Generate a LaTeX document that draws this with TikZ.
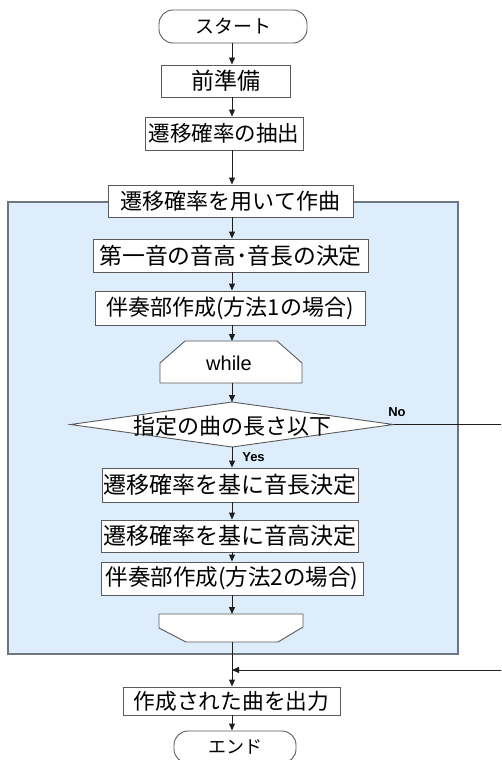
\documentclass[tikz,border=0pt]{standalone}
\usepackage{fontspec}
\newfontfamily\jp{Noto Sans CJK JP}
\newfontfamily\lat{Liberation Sans}
\usetikzlibrary{arrows.meta,calc}
\definecolor{boxline}{HTML}{5A5A5A}
\definecolor{lineblk}{HTML}{1E1E1E}
\definecolor{bluefill}{HTML}{DEEDFB}
\definecolor{blueline}{HTML}{6B7680}
\tikzset{
  box/.style={draw=boxline, line width=0.9pt, fill=white, inner sep=0pt, text=black},
  term/.style={box, rounded corners=14pt},
  fs/.style={font={\jp\fontsize{#1}{#1}\selectfont}},
  arr/.style={draw=lineblk, line width=0.9pt, -{Triangle[length=7pt,width=6pt]}},
  plainline/.style={draw=lineblk, line width=0.9pt},
  shp/.style={draw=boxline, line width=0.9pt, fill=white},
  ghost/.style={inner sep=0pt, outer sep=0pt},
  lbl/.style={font={\lat\bfseries\fontsize{13}{13}\selectfont}, inner sep=0pt}
}
\begin{document}
\begin{tikzpicture}[x=1pt,y=-1pt]
\useasboundingbox (0,0) rectangle (501,760);
\clip (0,0) rectangle (501,760);

% loop container
\node[draw=blueline, line width=1.2pt, fill=bluefill, minimum width=450pt, minimum height=452pt, inner sep=0pt] (loop) at (233,428) {};

\coordinate (colx) at (232,0);

\node[term, fs=19, minimum width=148pt, minimum height=33pt] (start) at (233,26.5) {スタート};
\node[box, fs=23, minimum width=129pt, minimum height=32pt] (pre) at (225.5,81) {前準備};
\node[box, fs=21.5, minimum width=158pt, minimum height=33pt] (ext) at (224,133.5) {遷移確率の抽出};
\node[box, fs=22, minimum width=245pt, minimum height=32pt] (comp) at (230.5,201) {遷移確率を用いて作曲};
\node[box, fs=22.8, minimum width=275pt, minimum height=33pt] (first) at (230.5,255.5) {第一音の音高･音長の決定};
\node[box, fs=22, minimum width=270pt, minimum height=34pt] (acc1) at (230,308) {伴奏部作成(方法1の場合)};

% while (loop start)
\node[ghost, minimum width=142pt, minimum height=42pt] (wh) at (231,362) {};
\draw[shp] (wh.south west) -- ($(wh.north west)+(0,22)$) -- ($(wh.north west)+(25,0)$) -- ($(wh.north east)+(-25,0)$) -- ($(wh.north east)+(0,22)$) -- (wh.south east) -- cycle;
\node[font={\lat\fontsize{20}{20}\selectfont}, inner sep=0pt] (whtxt) at (229,363) {while};

% condition
\node[ghost, minimum width=323pt, minimum height=45pt] (cond) at (232,424.5) {};
\draw[shp] (cond.west) -- (cond.north) -- (cond.east) -- (cond.south) -- cycle;
\node[fs=22, inner sep=0pt] (condtxt) at (232,426) {指定の曲の長さ以下};
\node[lbl] (no) at (397,412.5) {No};
\node[lbl] (yes) at (253.5,457) {Yes};

\node[box, fs=23, minimum width=256pt, minimum height=34pt] (dur) at (230,485) {遷移確率を基に音長決定};
\node[box, fs=23, minimum width=257pt, minimum height=32pt] (pit) at (229.5,536) {遷移確率を基に音高決定};
\node[box, fs=22.5, minimum width=262pt, minimum height=33pt] (acc2) at (232,578.5) {伴奏部作成(方法2の場合)};

% loop end
\node[ghost, minimum width=144pt, minimum height=28pt] (lend) at (231,628) {};
\draw[shp] (lend.north west) -- ($(lend.north west)+(0,14)$) -- ($(lend.south west)+(27,0)$) -- ($(lend.south east)+(-25,0)$) -- ($(lend.north east)+(0,13)$) -- (lend.north east) -- cycle;

\node[box, fs=21.7, minimum width=217pt, minimum height=28pt] (out) at (231.5,701) {作成された曲を出力};
\node[term, fs=18, minimum width=122pt, minimum height=32pt] (end) at (235,747) {エンド};

% connectors
\draw[arr] (start.south -| colx) -- (pre.north -| colx);
\draw[arr] (pre.south -| colx) -- (ext.north -| colx);
\draw[arr] (ext.south -| colx) -- (comp.north -| colx);
\draw[arr] (comp.south -| colx) -- (first.north -| colx);
\draw[arr] (first.south -| colx) -- (acc1.north -| colx);
\draw[arr] (acc1.south -| colx) -- (wh.north -| colx);
\draw[arr] (wh.south -| colx) -- (cond.north -| colx);
\draw[arr] (cond.south -| colx) -- (dur.north -| colx);
\draw[arr] (dur.south -| colx) -- (pit.north -| colx);
\draw[arr] (pit.south -| colx) -- (acc2.north -| colx);
\draw[arr] (acc2.south -| colx) -- (lend.north -| colx);
\draw[arr] (lend.south -| colx) -- (out.north -| colx);
\draw[arr] (out.south -| colx) -- (end.north -| colx);
\coordinate (ret) at (232,670);
\draw[arr] (cond.east) -- (520,424.5) -- (520,670) -- (ret);
\end{tikzpicture}
\end{document}
